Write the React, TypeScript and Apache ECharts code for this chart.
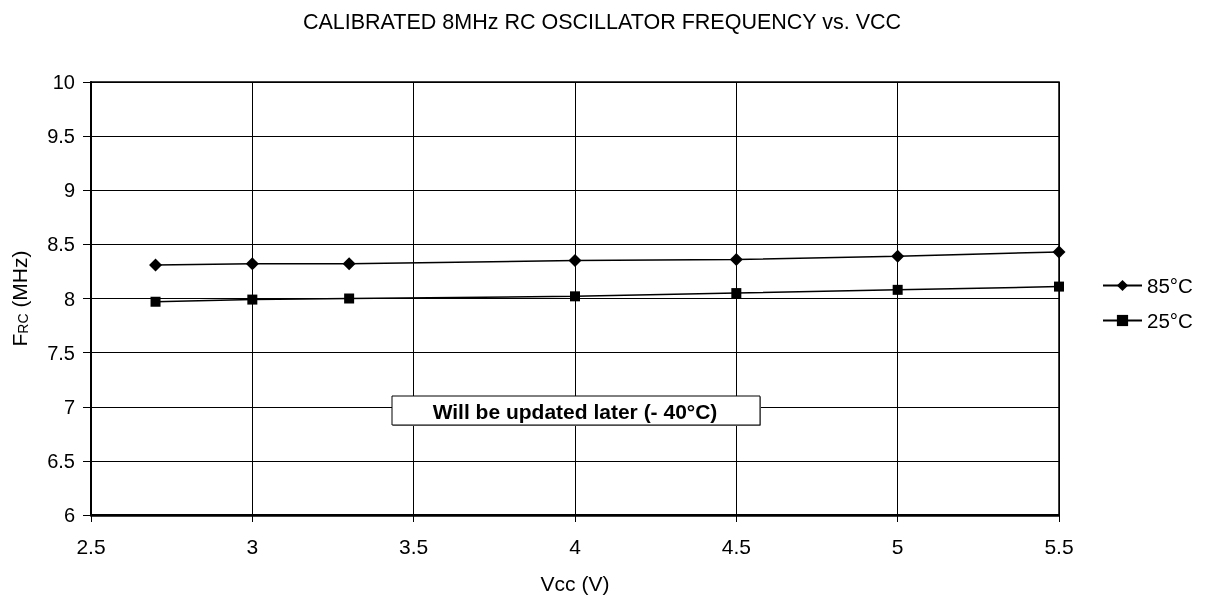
import React, { useEffect, useRef } from "react";
import * as echarts from "echarts";

const vcc = [2.7, 3, 3.3, 4, 4.5, 5, 5.5];
const f85 = [8.31, 8.32, 8.32, 8.35, 8.36, 8.39, 8.43];
const f25 = [7.97, 7.99, 8.0, 8.02, 8.05, 8.08, 8.11];
const seriesNames = ["85°C", "25°C"];
const title = "CALIBRATED 8MHz RC OSCILLATOR FREQUENCY vs. VCC";
const note = "Will be updated later (- 40°C)";

export default function App() {
  const ref = useRef<HTMLDivElement>(null);
  useEffect(() => {
    if (!ref.current) return;
    const chart = echarts.init(ref.current, undefined, { renderer: "svg" });
    const font = "Liberation Sans, Arial, sans-serif";
    chart.setOption({
      animation: false,
      textStyle: { fontFamily: font, color: "#000" },
      title: {
        text: title,
        left: 597,
        textAlign: "center",
        top: 6,
        textStyle: { fontFamily: font, fontSize: 21.5, fontWeight: "normal", color: "#000" },
      },
      grid: { left: 91, top: 82, right: 149, bottom: 83, containLabel: false },
      legend: {
        orient: "vertical",
        left: 1097,
        top: 270,
        itemGap: 14,
        itemWidth: 39,
        itemHeight: 14,
        textStyle: { fontFamily: font, fontSize: 20.5, color: "#000" },
        data: [seriesNames[0], seriesNames[1]],
      },
      xAxis: {
        type: "value",
        min: 2.5,
        max: 5.5,
        interval: 0.5,
        name: "Vcc (V)",
        nameLocation: "middle",
        nameGap: 58,
        nameTextStyle: { fontFamily: font, fontSize: 21, color: "#000" },
        axisLine: { show: true, lineStyle: { color: "#000", width: 2 } },
        axisTick: { show: true, inside: false, length: 7, lineStyle: { color: "#000" } },
        axisLabel: { fontFamily: font, fontSize: 21, color: "#000", margin: 21 },
        splitLine: { show: true, lineStyle: { color: "#000", width: 1 } },
      },
      yAxis: {
        type: "value",
        min: 6,
        max: 10,
        interval: 0.5,
        name: "F{sub|RC} (MHz)",
        nameLocation: "middle",
        nameGap: 61,
        nameRotate: 90,
        nameTextStyle: {
          fontFamily: font,
          fontSize: 21,
          color: "#000",
          rich: { sub: { fontFamily: font, fontSize: 14, color: "#000", padding: [8, 0, 0, 0] } },
        },
        axisLine: { show: true, lineStyle: { color: "#000", width: 2 } },
        axisTick: { show: true, inside: false, length: 8, lineStyle: { color: "#000" } },
        axisLabel: { fontFamily: font, fontSize: 20, color: "#000", margin: 16 },
        splitLine: { show: true, lineStyle: { color: "#000", width: 1 } },
      },
      graphic: [
        {
          type: "rect",
          shape: { x: 91, y: 82, width: 968, height: 434 },
          style: { fill: "none", stroke: "#000", lineWidth: 1.5 },
          silent: true,
          z: 10,
        },
        {
          type: "rect",
          shape: { x: 393, y: 397, width: 368, height: 29 },
          style: { fill: "#999", stroke: "none" },
          z: 19,
        },
        {
          type: "rect",
          shape: { x: 392, y: 396, width: 368, height: 29 },
          style: { fill: "#fff", stroke: "#000", lineWidth: 1 },
          z: 20,
        },
        {
          type: "text",
          x: 575,
          y: 411,
          style: {
            text: note,
            fontFamily: font,
            fontSize: 21,
            fontWeight: "bold",
            fill: "#000",
            align: "center",
            verticalAlign: "middle",
          },
          z: 21,
        },
      ],
      series: [
        {
          name: seriesNames[0],
          type: "line",
          data: vcc.map((v, i) => [v, f85[i]]),
          symbol: "diamond",
          symbolSize: 13,
          lineStyle: { color: "#000", width: 1.5 },
          itemStyle: { color: "#000" },
        },
        {
          name: seriesNames[1],
          type: "line",
          data: vcc.map((v, i) => [v, f25[i]]),
          symbol: "rect",
          symbolSize: 10,
          lineStyle: { color: "#000", width: 1.5 },
          itemStyle: { color: "#000" },
        },
      ],
    });
    return () => chart.dispose();
  }, []);
  return (
    <div
      ref={ref}
      style={{ position: "fixed", left: 0, top: 0, width: 1208, height: 599 }}
    />
  );
}
